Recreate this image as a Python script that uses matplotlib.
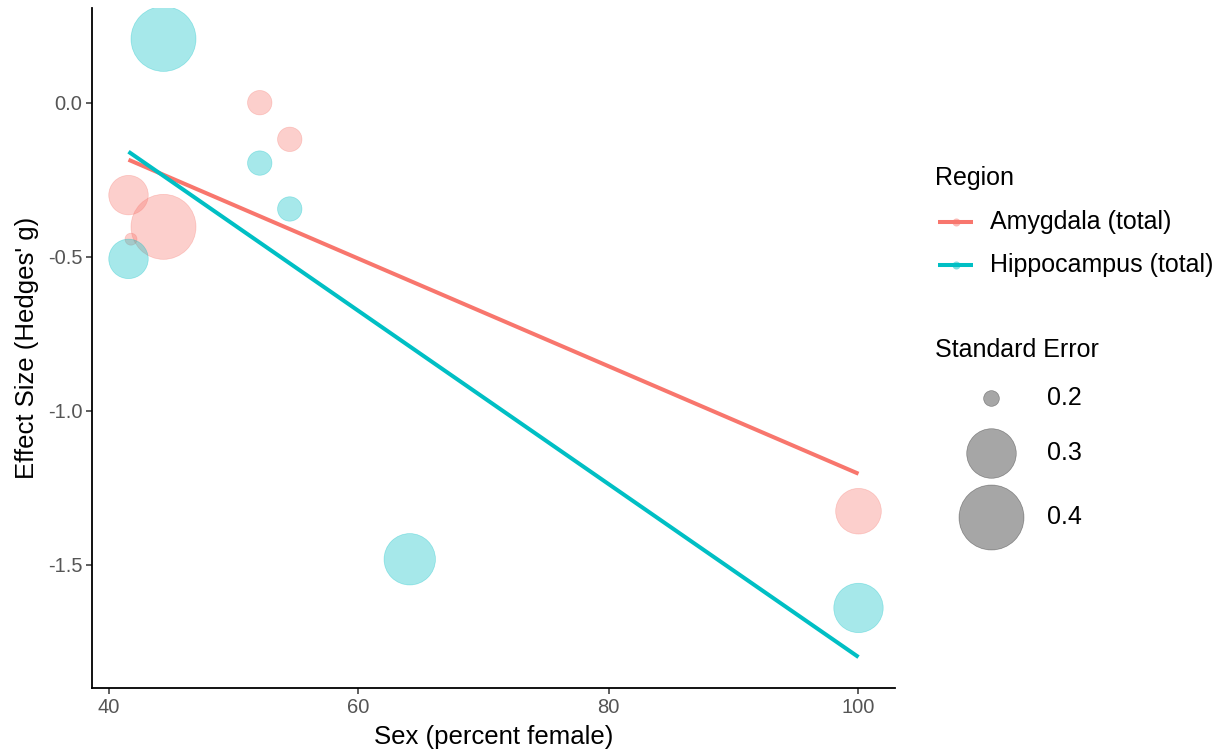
import matplotlib.pyplot as plt
import numpy as np

plt.rcParams['font.family'] = ['Liberation Sans', 'DejaVu Sans']

# percent female, effect size (Hedges' g) and standard error per study
amy_x = [52.1, 54.5, 41.6, 44.4, 41.8, 100.0]
amy_y = [0.0, -0.119, -0.30, -0.403, -0.443, -1.326]
amy_se = [0.21, 0.21, 0.253, 0.40, 0.199, 0.28]

hip_x = [44.4, 52.1, 54.5, 41.6, 64.1, 100.0]
hip_y = [0.207, -0.196, -0.345, -0.507, -1.482, -1.64]
hip_se = [0.40, 0.21, 0.21, 0.253, 0.31, 0.299]

regions = ['Amygdala (total)', 'Hippocampus (total)']
colors = ['#F8766D', '#00BFC4']
se_breaks = [0.2, 0.3, 0.4]

all_se = np.array(amy_se + hip_se)
se_min, se_max = all_se.min(), all_se.max()


def size_of(se):
    # area-style size scale: diameter in px grows with sqrt of rescaled SE
    t = np.clip((np.asarray(se) - se_min) / (se_max - se_min), 0, 1)
    d = 12 + 53 * np.sqrt(t)
    return (d * 0.72) ** 2


def expand(lo, hi, f=0.05):
    r = hi - lo
    return lo - f * r, hi + f * r


fig = plt.figure(figsize=(12.32, 7.55), dpi=100)
ax = fig.add_axes([92 / 1232, 1 - 688 / 755, (895 - 92) / 1232, (688 - 8) / 755])

fit_x = []
fit_y = []
groups = [(amy_x, amy_y, amy_se), (hip_x, hip_y, hip_se)]
for (x, y, se), c in zip(groups, colors):
    ax.scatter(x, y, s=size_of(se), color=c, alpha=0.35, linewidths=0.5,
               edgecolors=c, zorder=2)

for (x, y, se), c in zip(groups, colors):
    k, b = np.polyfit(x, y, 1)
    xs = np.array([min(x), max(x)])
    ys = k * xs + b
    fit_x += list(xs)
    fit_y += list(ys)
    ax.plot(xs, ys, color=c, lw=2.9, solid_capstyle='butt', zorder=3)

xs_all = amy_x + hip_x + fit_x
ys_all = amy_y + hip_y + fit_y
ax.set_xlim(*expand(min(xs_all), max(xs_all)))
ax.set_ylim(*expand(min(ys_all), max(ys_all)))

ax.set_xticks([40, 60, 80, 100])
ax.set_yticks([0, -0.5, -1.0, -1.5])
ax.set_yticklabels(['%.1f' % v for v in [0, -0.5, -1.0, -1.5]])
ax.tick_params(length=4, width=1.1, color='#333333', labelcolor='#555555',
               labelsize=14.5, pad=3)
for s in ['top', 'right']:
    ax.spines[s].set_visible(False)
for s in ['left', 'bottom']:
    ax.spines[s].set_linewidth(1.3)
    ax.spines[s].set_color('black')

ax.set_xlabel('Sex (percent female)', fontsize=18.5, labelpad=6)
ax.set_ylabel("Effect Size (Hedges' g)", fontsize=18.5, labelpad=6)

# legends, laid out in figure pixels
lax = fig.add_axes([0, 0, 1, 1])
lax.set_xlim(0, 1232)
lax.set_ylim(755, 0)
lax.axis('off')

lax.text(935, 178, 'Region', fontsize=18, va='center')
for i, (name, c) in enumerate(zip(regions, colors)):
    yy = 222 + i * 43
    lax.plot([938, 973], [yy, yy], color=c, lw=2.9, solid_capstyle='butt')
    lax.scatter([955.5], [yy], s=(8 * 0.72) ** 2, color=c, alpha=0.5, lw=0)
    lax.text(990, yy, name, fontsize=18, va='center')

lax.text(935, 350, 'Standard Error', fontsize=18, va='center')
for yy, br in zip([398, 453, 517], se_breaks):
    lax.scatter([991], [yy], s=size_of(br), color='black', alpha=0.35,
                linewidths=0.5, edgecolors='black')
    lax.text(1047, yy, '%.1f' % br, fontsize=18, va='center')

fig.savefig('out.png', dpi=100)
